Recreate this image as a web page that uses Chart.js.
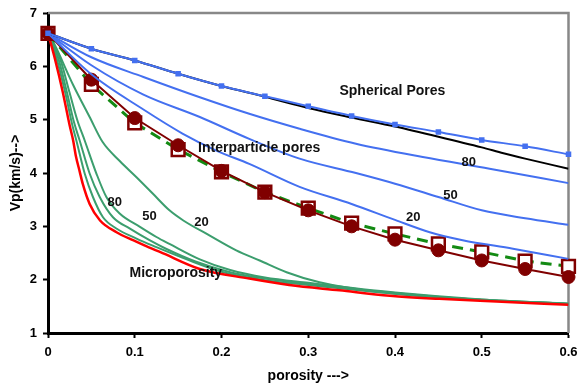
<!DOCTYPE html>
<html>
<head>
<meta charset="utf-8">
<script src="https://cdn.jsdelivr.net/npm/chart.js@4.4.1/dist/chart.umd.min.js"></script>
<style>
  body { margin: 0; background: #fff; }
</style>
</head>
<body>
<canvas id="vpChart" width="580" height="385"></canvas>
<script>
// axis ticks
const xTickValues = [0, 0.1, 0.2, 0.3, 0.4, 0.5, 0.6];
const xTickLabels = ["0", "0.1", "0.2", "0.3", "0.4", "0.5", "0.6"];
const yTickValues = [1, 2, 3, 4, 5, 6, 7];

// porosity steps of the marker series
const porosityMarks = [0, 0.05, 0.1, 0.15, 0.2, 0.25, 0.3, 0.35, 0.4, 0.45, 0.5, 0.55, 0.6];

// spherical pores (blue with small squares)
const sphericalVp = [6.62, 6.33, 6.11, 5.86, 5.63, 5.44, 5.25, 5.07, 4.91, 4.77, 4.62, 4.50, 4.35];
// dark red line with filled circles
const circleVp = [6.62, 5.75, 5.03, 4.52, 4.04, 3.64, 3.30, 3.00, 2.75, 2.55, 2.36, 2.20, 2.05];
// green dashed line with open squares
const squareVp = [6.62, 5.66, 4.94, 4.44, 4.02, 3.64, 3.34, 3.06, 2.86, 2.67, 2.52, 2.35, 2.25];

// black line
const blackX = [0, 0.05, 0.1, 0.15, 0.2, 0.25, 0.3, 0.35, 0.4, 0.45, 0.5, 0.525, 0.55, 0.6];
const blackVp = [6.62, 6.33, 6.11, 5.86, 5.63, 5.43, 5.22, 5.04, 4.87, 4.68, 4.48, 4.37, 4.27, 4.08];

// interparticle blue curves (80, 50, 20)
const blue80X = [0, 0.05, 0.11, 0.175, 0.232, 0.29, 0.355, 0.432, 0.509, 0.6];
const blue80Vp = [6.62, 6.17, 5.80, 5.42, 5.11, 4.83, 4.55, 4.30, 4.08, 3.81];
const blue50X = [0, 0.05, 0.11, 0.175, 0.232, 0.29, 0.355, 0.4, 0.45, 0.5, 0.55, 0.6];
const blue50Vp = [6.62, 6.02, 5.47, 5.05, 4.64, 4.27, 4.00, 3.80, 3.55, 3.30, 3.15, 3.03];
const blue20X = [0, 0.05, 0.11, 0.155, 0.194, 0.232, 0.29, 0.35, 0.4, 0.44, 0.478, 0.536, 0.6];
const blue20Vp = [6.62, 5.85, 5.19, 4.74, 4.42, 4.17, 3.74, 3.42, 3.12, 2.89, 2.74, 2.58, 2.39];

// microporosity (red)
const microX = [0, 0.008, 0.017, 0.025, 0.029, 0.032, 0.0365, 0.04, 0.048, 0.06, 0.079, 0.098, 0.117, 0.129, 0.175, 0.232, 0.278, 0.336, 0.394, 0.451, 0.517, 0.6];
const microVp = [6.62, 6.14, 5.52, 4.89, 4.61, 4.33, 4.03, 3.80, 3.42, 3.11, 2.89, 2.74, 2.60, 2.52, 2.20, 2.02, 1.90, 1.80, 1.70, 1.64, 1.59, 1.53];

// green curves near microporosity
const green20X = [0, 0.006, 0.029, 0.048, 0.063, 0.083, 0.102, 0.121, 0.14, 0.156, 0.186, 0.217, 0.244, 0.275, 0.313, 0.375, 0.451, 0.555, 0.6];
const green20Vp = [6.62, 6.46, 5.65, 5.05, 4.58, 4.22, 3.92, 3.61, 3.30, 3.11, 2.83, 2.55, 2.36, 2.14, 1.95, 1.78, 1.67, 1.58, 1.54];
const greenAX = [0, 0.01, 0.02, 0.028, 0.0327, 0.0423, 0.0518, 0.0634, 0.0788, 0.102, 0.125, 0.16, 0.2, 0.25, 0.3, 0.4, 0.5, 0.6];
const greenAVp = [6.62, 6.14, 5.50, 4.90, 4.61, 3.99, 3.55, 3.17, 2.96, 2.77, 2.61, 2.38, 2.15, 1.99, 1.90, 1.74, 1.62, 1.55];
const greenBX = [0, 0.012, 0.022, 0.03, 0.0365, 0.048, 0.0596, 0.0749, 0.094, 0.117, 0.136, 0.17, 0.21, 0.25, 0.3, 0.4, 0.5, 0.6];
const greenBVp = [6.62, 6.14, 5.50, 4.95, 4.61, 3.99, 3.55, 3.17, 2.96, 2.74, 2.58, 2.34, 2.14, 2.02, 1.92, 1.75, 1.62, 1.55];
const greenCX = [0, 0.014, 0.025, 0.034, 0.0423, 0.0558, 0.0673, 0.0826, 0.106, 0.125, 0.14, 0.175, 0.21, 0.25, 0.3, 0.4, 0.5, 0.6];
const greenCVp = [6.62, 6.14, 5.50, 4.98, 4.61, 3.99, 3.55, 3.24, 2.99, 2.80, 2.67, 2.38, 2.18, 2.04, 1.94, 1.76, 1.63, 1.55];

// text labels on the plot
const noteTexts = ["Spherical Pores", "Interparticle pores", "Microporosity", "80", "50", "20", "80", "50", "20"];
const noteX = [0.336, 0.173, 0.094, 0.077, 0.117, 0.177, 0.485, 0.464, 0.421];
const noteY = [5.53, 4.46, 2.13, 3.44, 3.19, 3.07, 4.20, 3.58, 3.17];

const pts = (xs, ys) => xs.map((x, i) => ({ x: x, y: ys[i] }));

const BLUE = "#4470f0";
const GREEN = "#3c9e6e";
const DARKRED = "#800000";
const FONT = "Liberation Sans, Arial, sans-serif";

const curve = (data, color, width) => ({
  data: data,
  borderColor: color,
  borderWidth: width,
  pointRadius: 0,
  cubicInterpolationMode: "monotone",
});

// gray frame on top and right of the plot
const framePlugin = {
  id: "frame",
  beforeDatasetsDraw(chart) {
    const { ctx, chartArea } = chart;
    ctx.save();
    ctx.strokeStyle = "#888";
    ctx.lineWidth = 2.5;
    ctx.beginPath();
    ctx.moveTo(chartArea.left, chartArea.top);
    ctx.lineTo(chartArea.right, chartArea.top);
    ctx.lineTo(chartArea.right, chartArea.bottom);
    ctx.stroke();
    ctx.restore();
  },
};

// curve labels
const notesPlugin = {
  id: "notes",
  afterDatasetsDraw(chart) {
    const { ctx, scales } = chart;
    ctx.save();
    ctx.fillStyle = "#111";
    ctx.textBaseline = "middle";
    noteTexts.forEach((t, i) => {
      const isNum = /^\d+$/.test(t);
      ctx.font = "bold " + (isNum ? 13 : 14) + "px " + FONT;
      ctx.textAlign = isNum ? "center" : "left";
      ctx.fillText(t, scales.x.getPixelForValue(noteX[i]), scales.y.getPixelForValue(noteY[i]));
    });
    ctx.restore();
  },
};

new Chart(document.getElementById("vpChart"), {
  type: "line",
  data: {
    datasets: [
      {
        data: pts(porosityMarks, sphericalVp),
        borderColor: BLUE,
        borderWidth: 2,
        pointStyle: "rect",
        pointRadius: 2.5,
        pointBackgroundColor: BLUE,
        pointBorderColor: BLUE,
        cubicInterpolationMode: "monotone",
        clip: false,
      },
      curve(pts(blackX, blackVp), "#000", 2),
      curve(pts(blue80X, blue80Vp), BLUE, 2),
      curve(pts(blue50X, blue50Vp), BLUE, 2),
      curve(pts(blue20X, blue20Vp), BLUE, 2),
      {
        data: pts(porosityMarks, circleVp),
        borderColor: DARKRED,
        borderWidth: 2,
        pointStyle: "circle",
        pointRadius: 6.5,
        pointBackgroundColor: DARKRED,
        pointBorderColor: DARKRED,
        pointBorderWidth: 1,
        clip: false,
      },
      {
        data: pts(porosityMarks, squareVp),
        borderColor: "#138a13",
        borderWidth: 3,
        borderDash: [11, 7],
        pointStyle: "rect",
        pointRadius: 9,
        pointBackgroundColor: "#fff",
        pointBorderColor: DARKRED,
        pointBorderWidth: 2.5,
        clip: false,
      },
      curve(pts(microX, microVp), "#f00", 2.5),
      curve(pts(green20X, green20Vp), GREEN, 2),
      curve(pts(greenAX, greenAVp), GREEN, 2),
      curve(pts(greenBX, greenBVp), GREEN, 2),
      curve(pts(greenCX, greenCVp), GREEN, 2),
    ],
  },
  options: {
    responsive: false,
    animation: false,
    layout: { padding: { top: 13, right: 11, left: 0, bottom: 0 } },
    plugins: { legend: { display: false }, tooltip: { enabled: false } },
    scales: {
      x: {
        type: "linear",
        min: 0,
        max: 0.6,
        afterBuildTicks: (s) => { s.ticks = xTickValues.map((v) => ({ value: v })); },
        afterFit: (s) => {
          s.height = 52;
          s.paddingLeft = 0;
          s.paddingRight = 0;
        },
        ticks: {
          callback: (v, i) => xTickLabels[i],
          color: "#000",
          font: { family: FONT, size: 13, weight: "bold" },
          padding: 7,
          maxRotation: 0,
          autoSkip: false,
        },
        grid: { drawOnChartArea: false, tickLength: 5, tickWidth: 2, tickColor: "#000" },
        border: { color: "#000", width: 3 },
        title: {
          display: true,
          text: "porosity --->",
          color: "#000",
          font: { family: FONT, size: 14, weight: "bold" },
          padding: { top: 0, bottom: 0 },
        },
      },
      y: {
        min: 1,
        max: 7,
        afterBuildTicks: (s) => { s.ticks = yTickValues.map((v) => ({ value: v })); },
        afterFit: (s) => {
          s.width = 48;
          s.paddingTop = 0;
          s.paddingBottom = 0;
        },
        ticks: {
          color: "#000",
          font: { family: FONT, size: 13, weight: "bold" },
          padding: 6,
        },
        grid: { drawOnChartArea: false, tickLength: 5, tickWidth: 2, tickColor: "#000" },
        border: { color: "#000", width: 3 },
        title: {
          display: true,
          text: "Vp(km/s)-->",
          color: "#000",
          font: { family: FONT, size: 14, weight: "bold" },
          padding: { top: 8, bottom: 0 },
        },
      },
    },
  },
  plugins: [framePlugin, notesPlugin],
});
</script>
</body>
</html>
